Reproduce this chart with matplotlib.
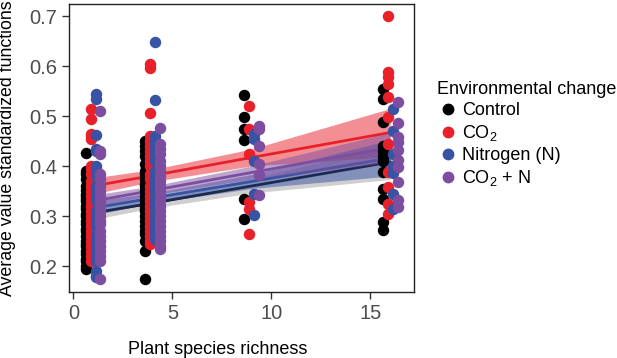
import numpy as np
import matplotlib
matplotlib.use("Agg")
import matplotlib.pyplot as plt
from matplotlib.lines import Line2D

plt.rcParams["font.family"] = ["Liberation Sans", "DejaVu Sans"]
plt.rcParams["mathtext.default"] = "regular"

# treatments and their colours
groups = ["Control", "CO$_2$", "Nitrogen (N)", "CO$_2$ + N"]
colors = ["#000000", "#e8202a", "#3953a4", "#7d4e9f"]
dodge = [-0.36, -0.11, 0.13, 0.37]

richness = [1, 4, 9, 16]

control = {
    1: [0.427, 0.39, 0.385, 0.375, 0.36, 0.352, 0.345, 0.34, 0.335, 0.33, 0.32, 0.315,
        0.305, 0.30, 0.29, 0.285, 0.275, 0.27, 0.26, 0.25, 0.245, 0.24, 0.23, 0.225,
        0.215, 0.21, 0.20, 0.195],
    4: [0.45, 0.44, 0.43, 0.42, 0.405, 0.39, 0.385, 0.375, 0.365, 0.36, 0.35, 0.34,
        0.33, 0.32, 0.315, 0.31, 0.30, 0.29, 0.28, 0.27, 0.265, 0.25, 0.23, 0.175],
    9: [0.542, 0.499, 0.475, 0.453, 0.335, 0.295],
    16: [0.555, 0.535, 0.489, 0.44, 0.43, 0.42, 0.41, 0.389, 0.355, 0.335, 0.289, 0.272],
}
co2 = {
    1: [0.515, 0.495, 0.465, 0.46, 0.455, 0.40, 0.395, 0.385, 0.37, 0.36, 0.35, 0.34,
        0.33, 0.32, 0.31, 0.30, 0.29, 0.28, 0.27, 0.26, 0.25, 0.24, 0.23, 0.22, 0.21],
    4: [0.605, 0.597, 0.507, 0.46, 0.45, 0.44, 0.43, 0.42, 0.41, 0.40, 0.385, 0.375,
        0.36, 0.35, 0.34, 0.33, 0.32, 0.31, 0.30, 0.29, 0.28, 0.27, 0.26, 0.25, 0.245],
    9: [0.52, 0.475, 0.425, 0.329, 0.315, 0.265],
    16: [0.70, 0.589, 0.579, 0.565, 0.539, 0.499, 0.445, 0.389, 0.359, 0.325, 0.305],
}
nitrogen = {
    1: [0.545, 0.535, 0.462, 0.435, 0.43, 0.40, 0.395, 0.38, 0.36, 0.35, 0.34, 0.33,
        0.31, 0.30, 0.29, 0.28, 0.265, 0.25, 0.24, 0.23, 0.22, 0.21, 0.19, 0.18, 0.178],
    4: [0.648, 0.532, 0.46, 0.45, 0.44, 0.43, 0.42, 0.41, 0.39, 0.38, 0.37, 0.36, 0.35,
        0.34, 0.33, 0.32, 0.31, 0.30, 0.29, 0.28, 0.275, 0.265, 0.255],
    9: [0.465, 0.455, 0.41, 0.345, 0.302],
    16: [0.515, 0.47, 0.425, 0.40, 0.386, 0.345, 0.315],
}
co2_n = {
    1: [0.51, 0.43, 0.425, 0.385, 0.375, 0.36, 0.35, 0.34, 0.33, 0.32, 0.31, 0.30,
        0.29, 0.285, 0.27, 0.26, 0.25, 0.24, 0.23, 0.22, 0.21, 0.175],
    4: [0.477, 0.445, 0.435, 0.425, 0.41, 0.40, 0.39, 0.38, 0.37, 0.36, 0.35, 0.34,
        0.33, 0.32, 0.31, 0.30, 0.29, 0.28, 0.27, 0.26, 0.25, 0.24, 0.235],
    9: [0.48, 0.475, 0.441, 0.405, 0.382, 0.342],
    16: [0.529, 0.487, 0.459, 0.449, 0.432, 0.412, 0.399, 0.369, 0.332, 0.319],
}
points = [control, co2, nitrogen, co2_n]

# fitted lines with confidence band, read at x = 1, 4, 9, 16
fit_x = [1, 4, 9, 16]
fit_mid = [
    [0.306, 0.326, 0.360, 0.408],
    [0.360, 0.381, 0.417, 0.467],
    [0.316, 0.336, 0.369, 0.416],
    [0.330, 0.351, 0.387, 0.437],
]
fit_half = [
    [0.013, 0.010, 0.014, 0.035],
    [0.016, 0.012, 0.017, 0.048],
    [0.014, 0.010, 0.014, 0.036],
    [0.012, 0.009, 0.013, 0.030],
]
band_colors = ["#a0a0a0", "#e8202a", "#3953a4", "#7d4e9f"]

fig = plt.figure(figsize=(6.17, 3.58), dpi=100)
ax = fig.add_axes([69 / 617, 66 / 358, 345 / 617, 288 / 358])

for i in range(4):
    mid = np.array(fit_mid[i])
    half = np.array(fit_half[i])
    ax.fill_between(fit_x, mid - half, mid + half, color=band_colors[i],
                    alpha=0.5, lw=0, zorder=1 + i * 0.1)
    ax.plot(fit_x, mid, color=colors[i], lw=2, zorder=1.05 + i * 0.1)

for i, data in enumerate(points):
    for r in richness:
        ys = data[r]
        ax.scatter([r + dodge[i]] * len(ys), ys, s=68, color=colors[i], lw=0, zorder=3 + i)

ax.set_xlim(-0.22, 17.2)
ax.set_ylim(0.148, 0.724)
ax.set_xticks([0, 5, 10, 15])
ax.set_yticks([0.2, 0.3, 0.4, 0.5, 0.6, 0.7])
ax.tick_params(labelsize=14.5, labelcolor="#4d4d4d", color="#333333", length=5, width=1)
for s in ax.spines.values():
    s.set_color("#222222")
    s.set_linewidth(1)

ax.set_xlabel("Plant species richness", fontsize=13)
ax.set_ylabel("Average value standardized functions", fontsize=12.8)
ax.xaxis.set_label_coords(0.43, -0.17)
ax.yaxis.set_label_coords(-0.155, 0.5)

handles = [Line2D([], [], marker="o", ls="", color=c, markersize=7.5) for c in colors]
leg = fig.legend(handles, groups, loc="upper left", bbox_to_anchor=(437 / 617, 1 - 81 / 358),
                 frameon=False, fontsize=13, title="Environmental change", title_fontsize=13,
                 handlelength=1.2, handletextpad=0.2, labelspacing=0.22, borderaxespad=0,
                 borderpad=0)
leg._legend_box.align = "left"

fig.savefig("out.png", dpi=100)
